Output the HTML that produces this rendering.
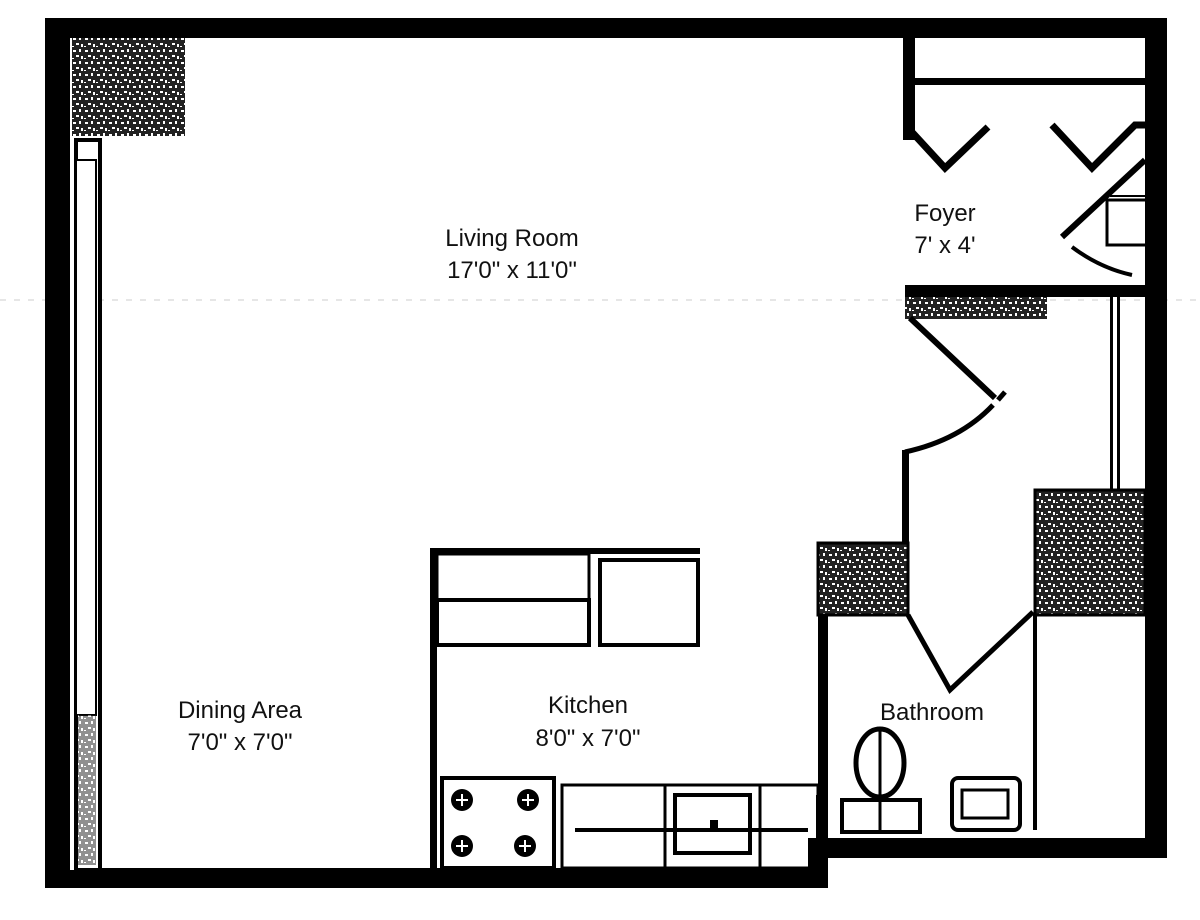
<!DOCTYPE html>
<html><head><meta charset="utf-8"><style>
html,body{margin:0;padding:0;background:#fff;width:1200px;height:920px;overflow:hidden}
svg{display:block}
text{font-family:"Liberation Sans",sans-serif;font-size:24px;fill:#111;text-anchor:middle}
</style></head><body>
<svg width="1200" height="920" viewBox="0 0 1200 920">
<defs>
<pattern id="tx" width="12" height="12" patternUnits="userSpaceOnUse">
<rect width="12" height="12" fill="#222"/>
<rect x="1" y="2" width="3" height="2" fill="#fff"/>
<rect x="7" y="1" width="2" height="3" fill="#fff"/>
<rect x="4" y="7" width="3" height="2" fill="#fff"/>
<rect x="9" y="8" width="2" height="3" fill="#fff"/>
<rect x="0" y="10" width="2" height="1" fill="#fff"/>
</pattern>
</defs>
<line x1="0" y1="300" x2="1200" y2="300" stroke="#ccc" stroke-width="1" stroke-dasharray="6 8"/>
<!-- outer walls -->
<rect x="45" y="18" width="1122" height="20" fill="#000"/>
<rect x="1145" y="18" width="22" height="840" fill="#000"/>
<rect x="45" y="18" width="25" height="870" fill="#000"/>
<rect x="45" y="868" width="783" height="20" fill="#000"/>
<rect x="808" y="838" width="20" height="50" fill="#000"/>
<rect x="808" y="838" width="359" height="20" fill="#000"/>
<!-- window strip -->
<rect x="70" y="38" width="32" height="832" fill="#fff"/>
<rect x="76" y="140" width="24" height="730" fill="#fff" stroke="#000" stroke-width="4"/>
<rect x="76" y="160" width="20" height="555" fill="#fff" stroke="#000" stroke-width="2"/>
<rect x="78" y="715" width="18" height="150" fill="url(#tx)" opacity="0.5"/>
<rect x="72" y="38" width="113" height="98" fill="url(#tx)"/>
<!-- foyer -->
<rect x="903" y="38" width="12" height="102" fill="#000"/>
<rect x="915" y="78" width="232" height="7" fill="#000"/>
<polyline points="910,130 945,168 988,127" fill="none" stroke="#000" stroke-width="7"/>
<polyline points="1052,125 1092,168 1135,125 1147,125" fill="none" stroke="#000" stroke-width="7"/>
<line x1="1062" y1="237" x2="1145" y2="160" stroke="#000" stroke-width="6"/>
<path d="M1072,247 Q1100,268 1132,275" fill="none" stroke="#000" stroke-width="4"/>
<rect x="1107" y="200" width="40" height="45" fill="none" stroke="#000" stroke-width="3"/>
<line x1="1110" y1="196" x2="1147" y2="196" stroke="#000" stroke-width="2"/>
<rect x="905" y="285" width="242" height="12" fill="#000"/>
<rect x="905" y="297" width="142" height="22" fill="url(#tx)"/>
<rect x="1110" y="297" width="3" height="195" fill="#000"/>
<rect x="1117" y="297" width="3" height="195" fill="#000"/>
<polyline points="910,318 995,398" fill="none" stroke="#000" stroke-width="6"/>
<line x1="998" y1="400" x2="1005" y2="392" stroke="#000" stroke-width="5"/>
<path d="M993,405 Q960,440 905,452" fill="none" stroke="#000" stroke-width="5"/>
<rect x="902" y="450" width="7" height="100" fill="#000"/>
<!-- bathroom -->
<rect x="818" y="543" width="90" height="72" fill="url(#tx)" stroke="#000" stroke-width="3"/>
<rect x="1035" y="490" width="110" height="125" fill="url(#tx)" stroke="#000" stroke-width="3"/>
<rect x="818" y="615" width="10" height="225" fill="#000"/>
<polyline points="908,615 950,690 1033,612" fill="none" stroke="#000" stroke-width="5"/>
<rect x="1033" y="615" width="4" height="215" fill="#000"/>
<ellipse cx="880" cy="763" rx="24" ry="34" fill="none" stroke="#000" stroke-width="5"/>
<line x1="880" y1="730" x2="880" y2="830" stroke="#000" stroke-width="3"/>
<rect x="842" y="800" width="78" height="32" fill="none" stroke="#000" stroke-width="4"/>
<rect x="952" y="778" width="68" height="52" rx="6" fill="none" stroke="#000" stroke-width="4"/>
<rect x="962" y="790" width="46" height="28" fill="none" stroke="#000" stroke-width="3"/>
<!-- kitchen -->
<rect x="430" y="548" width="270" height="6" fill="#000"/>
<rect x="430" y="548" width="7" height="322" fill="#000"/>
<rect x="437" y="554" width="152" height="46" fill="none" stroke="#000" stroke-width="3"/>
<rect x="437" y="600" width="152" height="45" fill="none" stroke="#000" stroke-width="4"/>
<rect x="600" y="560" width="98" height="85" fill="none" stroke="#000" stroke-width="4"/>
<rect x="442" y="778" width="112" height="90" fill="none" stroke="#000" stroke-width="4"/>
<g fill="#000">
<circle cx="462" cy="800" r="11"/><circle cx="528" cy="800" r="11"/>
<circle cx="462" cy="846" r="11"/><circle cx="525" cy="846" r="11"/>
</g>
<g stroke="#fff" stroke-width="2">
<path d="M456,800h12M462,794v12M522,800h12M528,794v12M456,846h12M462,840v12M519,846h12M525,840v12"/>
</g>
<rect x="562" y="785" width="256" height="83" fill="none" stroke="#000" stroke-width="3"/>
<line x1="665" y1="785" x2="665" y2="868" stroke="#000" stroke-width="3"/>
<line x1="760" y1="785" x2="760" y2="868" stroke="#000" stroke-width="3"/>
<rect x="675" y="795" width="75" height="58" fill="none" stroke="#000" stroke-width="4"/>
<line x1="575" y1="830" x2="808" y2="830" stroke="#000" stroke-width="4"/>
<rect x="710" y="820" width="8" height="8" fill="#000"/>
<line x1="818" y1="795" x2="818" y2="840" stroke="#000" stroke-width="4"/>
<!-- labels -->
<text x="512" y="246">Living Room</text>
<text x="512" y="278">17'0" x 11'0"</text>
<text x="945" y="221">Foyer</text>
<text x="945" y="253">7' x 4'</text>
<text x="240" y="718">Dining Area</text>
<text x="240" y="750">7'0" x 7'0"</text>
<text x="588" y="713">Kitchen</text>
<text x="588" y="746">8'0" x 7'0"</text>
<text x="932" y="720">Bathroom</text>
</svg>
</body></html>
